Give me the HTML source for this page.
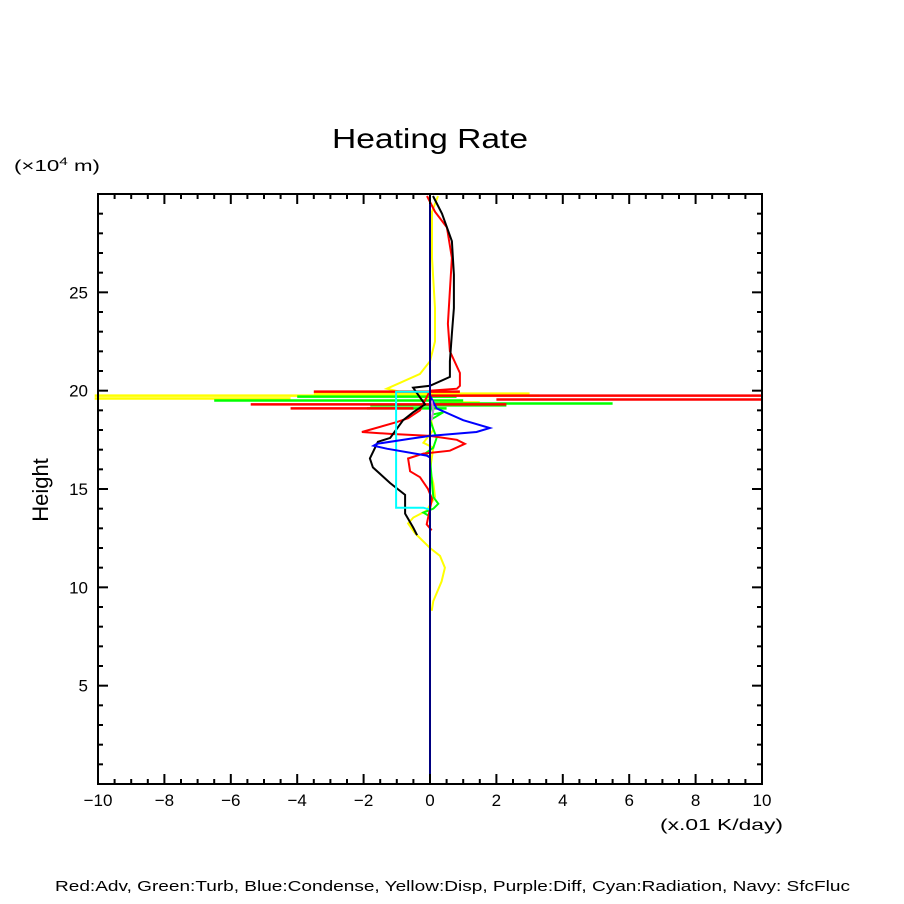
<!DOCTYPE html>
<html><head><meta charset="utf-8"><style>
html,body{margin:0;padding:0;background:#fff}
svg{display:block}
text{font-family:"Liberation Sans",sans-serif;fill:#000}
</style></head><body>
<svg id="chart" width="904" height="904" viewBox="0 0 904 904" xmlns="http://www.w3.org/2000/svg">
<text x="332" y="148" font-size="28" textLength="196" lengthAdjust="spacingAndGlyphs">Heating Rate</text>
<text x="14" y="171" font-size="16" textLength="86" lengthAdjust="spacingAndGlyphs">(×10<tspan dy="-6" font-size="11">4</tspan><tspan dy="6"> m)</tspan></text>
<text x="48" y="490" font-size="22" text-anchor="middle" transform="rotate(-90 48 490)">Height</text>
<text x="660" y="830" font-size="16" textLength="123" lengthAdjust="spacingAndGlyphs">(x.01 K/day)</text>
<text x="55" y="891" font-size="15" textLength="795" lengthAdjust="spacingAndGlyphs">Red:Adv, Green:Turb, Blue:Condense, Yellow:Disp, Purple:Diff, Cyan:Radiation, Navy: SfcFluc</text>
<g id="marks"></g>
<g id="axes"></g>
</svg>
<script>
const xTicks=[-10,-8,-6,-4,-2,0,2,4,6,8,10];
const yTicks=[5,10,15,20,25];
const xDomain=[-10,10], yDomain=[0,30];
// series: [value, height]
const advRed=[[-0.09,29.9],[0.15,29.1],[0.51,28.3],[0.66,26.75],[0.6,25.1],[0.54,23.4],[0.6,22.0],[0.9,20.9],[0.9,20.25],[0.81,20.1],[0,20.0],[-0.3,19.0],[-0.66,18.6],[-1.0,18.4],[-2.05,17.9],[-1.2,17.8],[0,17.7],[0.81,17.5],[1.05,17.3],[0.6,16.95],[-0.2,16.8],[-0.66,16.55],[-0.6,15.9],[-0.3,15.6],[-0.06,15.0],[0.06,14.5],[0,14.0],[-0.1,13.2],[0.05,12.9]];
const advSpikes=[[19.95,-3.5,0.9],[19.75,0,10],[19.55,2,10],[19.3,-5.4,2.3],[19.1,-4.2,-0.5]];
const totalBlack=[[0.09,29.9],[0.36,29.0],[0.66,27.6],[0.72,25.9],[0.72,24.2],[0.66,22.9],[0.6,21.5],[0.6,20.7],[0,20.25],[-0.51,20.15],[-0.15,19.3],[-0.51,18.9],[-0.81,18.5],[-1.2,17.6],[-1.57,17.4],[-1.81,16.55],[-1.72,16.1],[-1.2,15.3],[-0.75,14.7],[-0.75,13.75],[-0.51,13.05],[-0.39,12.65]];
const dispYellow=[[0.24,29.9],[0.15,29.5],[0.06,29.1],[0.06,26.75],[0.15,24.2],[0.15,22.5],[0,21.5],[-0.3,20.85],[-0.9,20.4],[-1.3,20.1],[0,19.6],[0,18.8],[0.1,18.0],[-0.2,17.35],[0.1,17.1],[0,15.95],[0.1,15.3],[0.15,14.6],[-0.1,13.9],[-0.5,13.55],[-0.66,13.25],[-0.45,12.75],[0,12.0],[0.3,11.6],[0.45,11.0],[0.35,10.3],[0.1,9.3],[0.05,8.8]];
const dispSpikes=[[19.85,-3.5,3.0],[19.75,-10.1,3.3],[19.6,-10.1,-4.2],[19.4,0.3,1.5]];
const turbGreen=[[0,19.6],[0.1,18.8],[0.4,18.9],[0,18.5],[0.2,17.6],[0.1,17.1],[-0.15,16.8],[0,16.6],[0.05,15.5],[0.1,14.6],[0.25,14.25],[0.1,14.0],[-0.2,13.8],[0,13.6]];
const turbSpikes=[[19.7,-4,0.8],[19.5,-6.5,1],[19.35,0,5.5],[19.25,-1.8,2.3],[19.1,-1.9,0.5]];
const condBlue=[[0,19.75],[0.2,19.1],[1.0,18.5],[1.8,18.1],[1.4,17.9],[0,17.7],[-0.6,17.55],[-1.6,17.3],[-1.7,17.2],[-1.3,17.05],[-0.1,16.7],[0,16.6]];
const radCyan=[[0,19.95],[-1.02,19.95],[-1.02,14.05],[-0.2,14.05],[0,13.95]];
const diffPurple=[[0.05,19.5],[0.1,19.0],[0.05,18.5]];
const fluxNavy=[[0,0],[0,30]];

const L=98,R=762,T=194,B=784;
const X=v=>L+(v-xDomain[0])/(xDomain[1]-xDomain[0])*(R-L);
const Y=h=>B-(h-yDomain[0])/(yDomain[1]-yDomain[0])*(B-T);
const NS='http://www.w3.org/2000/svg';
const marks=document.getElementById('marks'), axes=document.getElementById('axes');
function poly(pts,color,name){
  const p=document.createElementNS(NS,'polyline');
  p.setAttribute('points',pts.map(d=>X(d[0]).toFixed(1)+','+Y(d[1]).toFixed(1)).join(' '));
  p.setAttribute('fill','none');p.setAttribute('stroke',color);p.setAttribute('stroke-width','2');
  
  
  marks.appendChild(p);
}
function spikes(arr,color,name){
  arr.forEach(s=>{
    const l=document.createElementNS(NS,'line');
    l.setAttribute('x1',X(s[1]));l.setAttribute('x2',X(s[2]));
    l.setAttribute('y1',Y(s[0]));l.setAttribute('y2',Y(s[0]));
    l.setAttribute('stroke',color);l.setAttribute('stroke-width','2.5');
    
    
    marks.appendChild(l);
  });
}
poly(dispYellow,'#ffff00','disp-line');
spikes(dispSpikes,'#ffff00','disp-spike');
poly(turbGreen,'#00ff00','turb-line');
spikes(turbSpikes,'#00ff00','turb-spike');
poly(advRed,'#ff0000','adv-line');
spikes(advSpikes,'#ff0000','adv-spike');
poly(totalBlack,'#000000','total-line');
poly(radCyan,'#00ffff','radiation-line');
poly(condBlue,'#0000ff','condense-line');
poly(diffPurple,'#cc88dd','diff-line');
poly(fluxNavy,'#000080','sfcfluc-line');

function ln(x1,y1,x2,y2,name){
  const l=document.createElementNS(NS,'line');
  l.setAttribute('x1',x1);l.setAttribute('y1',y1);l.setAttribute('x2',x2);l.setAttribute('y2',y2);
  l.setAttribute('stroke','#000');l.setAttribute('stroke-width','2');
  
  
  axes.appendChild(l);
}
const fr=document.createElementNS(NS,'rect');
fr.setAttribute('x',L);fr.setAttribute('y',T);fr.setAttribute('width',R-L);fr.setAttribute('height',B-T);
fr.setAttribute('fill','none');fr.setAttribute('stroke','#000');fr.setAttribute('stroke-width','2');


axes.appendChild(fr);
for(let v=xDomain[0];v<=xDomain[1]+1e-9;v+=0.5){
  const major=xTicks.includes(Math.round(v*10)/10);
  const len=major?10:5, x=X(v);
  ln(x,B,x,B-len,'x-tick');ln(x,T,x,T+len,'x-tick-top');
}
for(let h=1;h<30;h++){
  const major=yTicks.includes(h);
  const len=major?10:5, y=Y(h);
  ln(L,y,L+len,y,'y-tick');ln(R,y,R-len,y,'y-tick-right');
}
xTicks.forEach(v=>{
  const t=document.createElementNS(NS,'text');
  t.setAttribute('x',X(v));t.setAttribute('y',806);t.setAttribute('font-size','17');t.setAttribute('text-anchor','middle');
  t.textContent=(v<0?'\u2212'+(-v):String(v));
  
  
  axes.appendChild(t);
});
yTicks.forEach(h=>{
  const t=document.createElementNS(NS,'text');
  t.setAttribute('x',88);t.setAttribute('y',Y(h)+6);t.setAttribute('font-size','17');t.setAttribute('text-anchor','end');
  t.textContent=String(h);
  
  
  axes.appendChild(t);
});
</script>
</body></html>
